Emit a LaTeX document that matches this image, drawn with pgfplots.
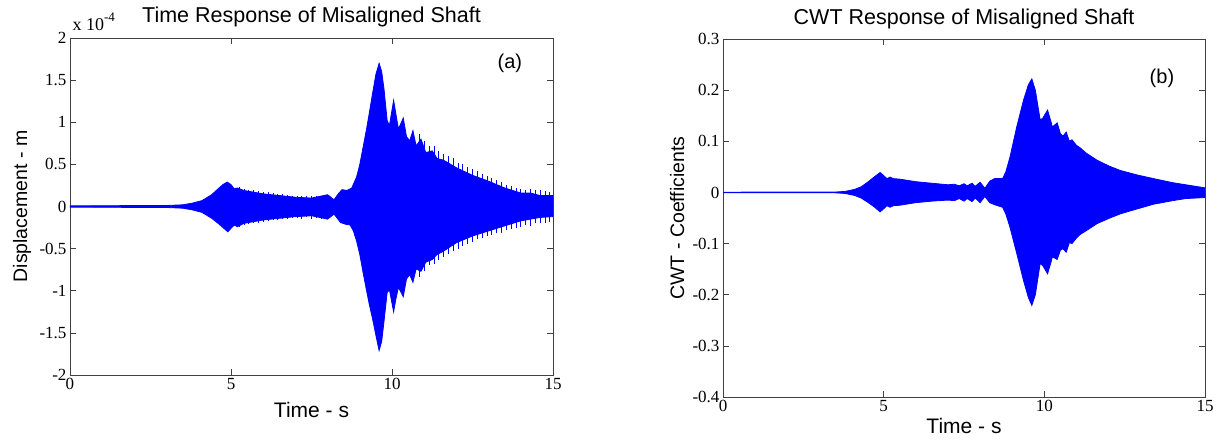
\documentclass[border=0pt]{standalone}
\usepackage{fontspec}
\setmainfont{Liberation Serif}
\newfontfamily\arial{Liberation Sans}
\usepackage{pgfplots}
\pgfplotsset{compat=1.18}
\begin{document}
\begin{tikzpicture}
\useasboundingbox (0pt,0pt) rectangle (1220pt,441pt);
\pgfplotsset{
  mstyle/.style={
    scale only axis, clip mode=individual,
    xmin=0, xmax=15,
    xtick={0,5,10,15}, xticklabels={0,5,10,15},
    tick align=inside, major tick length=6pt,
    axis line style={black!75, line width=0.7pt},
    tick style={black!75, line width=0.6pt},
    ticklabel style={font=\fontsize{17}{17}\selectfont},
    title style={font=\arial\fontsize{21.5}{22}\selectfont, at={(0.5,1)}, anchor=south, yshift=1pt},
    xlabel style={font=\arial\fontsize{21}{21}\selectfont, at={(0.5,0)}, anchor=north, yshift=-24pt},
    ylabel style={font=\arial\fontsize{19.5}{20}\selectfont},
  }
}
% ---------------- left panel ----------------
\begin{axis}[mstyle,
  at={(70pt,66pt)}, anchor=south west,
  width=483pt, height=337pt,
  ymin=-2, ymax=2,
  ytick={-2,-1.5,-1,-0.5,0,0.5,1,1.5,2},
  yticklabels={-2,-1.5,-1,-0.5,0,0.5,1,1.5,2},
  title={Time Response of Misaligned Shaft},
  xlabel={Time - s},
  ylabel={Displacement - m},
  ylabel style={at={(axis description cs:-0.099,0.5)}, anchor=center},
]
\addplot[draw=blue, fill=blue, line width=0.8pt] coordinates {
(0,0.008)(3,0.012)(3.5,0.02)(3.8,0.04)(4.1,0.07)(4.4,0.14)(4.6,0.21)(4.75,0.26)(4.88,0.29)(5.0,0.26)(5.1,0.21)(5.2,0.22)(5.4,0.19)(6.0,0.15)(6.5,0.13)(7.0,0.11)(7.5,0.1)(8.0,0.14)(8.2,0.08)(8.35,0.16)(8.45,0.2)(8.6,0.19)(8.75,0.22)(8.9,0.35)(9.0,0.5)(9.1,0.7)(9.2,0.9)(9.3,1.12)(9.4,1.35)(9.5,1.57)(9.6,1.70)(9.68,1.6)(9.75,1.4)(9.85,1.02)(9.92,0.96)(10.05,1.26)(10.12,1.1)(10.2,0.92)(10.35,1.05)(10.45,0.83)(10.55,0.78)(10.65,0.9)(10.75,0.72)(10.9,0.8)(11.05,0.64)(11.25,0.66)(11.4,0.57)(11.6,0.55)(12.0,0.46)(12.5,0.37)(13.0,0.3)(13.5,0.22)(14.0,0.16)(14.3,0.16)(14.6,0.13)(15,0.13)
(15,-0.12)(14.6,-0.13)(14.3,-0.15)(14.0,-0.17)(13.5,-0.23)(13.0,-0.29)(12.5,-0.35)(12.0,-0.43)(11.6,-0.53)(11.4,-0.57)(11.25,-0.63)(11.05,-0.66)(10.9,-0.77)(10.75,-0.74)(10.65,-0.9)(10.55,-0.81)(10.45,-0.86)(10.35,-1.07)(10.2,-0.96)(10.12,-1.1)(10.05,-1.25)(9.92,-0.99)(9.85,-1.02)(9.75,-1.37)(9.68,-1.6)(9.6,-1.71)(9.5,-1.53)(9.4,-1.34)(9.3,-1.17)(9.2,-0.98)(9.1,-0.78)(9.0,-0.57)(8.9,-0.41)(8.8,-0.29)(8.7,-0.22)(8.55,-0.21)(8.4,-0.19)(8.2,-0.09)(8.0,-0.15)(7.5,-0.11)(7.0,-0.12)(6.5,-0.14)(6.0,-0.16)(5.4,-0.2)(5.2,-0.24)(5.1,-0.22)(5.0,-0.26)(4.9,-0.3)(4.75,-0.25)(4.6,-0.2)(4.4,-0.14)(4.1,-0.07)(3.8,-0.04)(3.5,-0.02)(3,-0.012)(0,-0.008)
};
\addplot[ycomb, draw=blue, line width=0.7pt] coordinates {
(5.25,0.23)(5.4,0.21)(5.55,0.2)(5.7,0.19)(5.85,0.18)(6.0,0.17)(6.15,0.17)(6.3,0.16)(6.45,0.15)(6.6,0.15)(6.75,0.14)(6.9,0.13)(7.05,0.13)(7.2,0.13)(7.35,0.12)(7.5,0.13)(7.65,0.13)(7.8,0.13)
(10.85,0.86)(11.0,0.78)(11.15,0.72)(11.3,0.72)(11.45,0.66)(11.6,0.62)(11.75,0.6)(11.9,0.57)(12.05,0.52)(12.2,0.5)(12.35,0.47)(12.5,0.45)(12.65,0.42)(12.8,0.39)(12.95,0.36)(13.1,0.34)(13.25,0.31)(13.4,0.29)(13.55,0.26)(13.7,0.24)(13.85,0.22)(14.0,0.21)(14.15,0.2)(14.3,0.21)(14.45,0.2)(14.6,0.19)(14.75,0.18)(14.9,0.17)
};
\addplot[ycomb, draw=blue, line width=0.7pt] coordinates {
(5.25,-0.24)(5.4,-0.22)(5.55,-0.21)(5.7,-0.2)(5.85,-0.19)(6.0,-0.18)(6.15,-0.17)(6.3,-0.16)(6.45,-0.16)(6.6,-0.15)(6.75,-0.15)(6.9,-0.14)(7.05,-0.14)(7.2,-0.15)(7.35,-0.13)(7.5,-0.15)(7.65,-0.14)(7.8,-0.15)
(10.85,-0.84)(11.0,-0.76)(11.15,-0.7)(11.3,-0.68)(11.45,-0.63)(11.6,-0.6)(11.75,-0.56)(11.9,-0.53)(12.05,-0.5)(12.2,-0.47)(12.35,-0.44)(12.5,-0.42)(12.65,-0.39)(12.8,-0.37)(12.95,-0.35)(13.1,-0.34)(13.25,-0.32)(13.4,-0.31)(13.55,-0.28)(13.7,-0.27)(13.85,-0.25)(14.0,-0.24)(14.15,-0.22)(14.3,-0.23)(14.45,-0.2)(14.6,-0.2)(14.75,-0.19)(14.9,-0.18)
};
\node[font=\arial\fontsize{20}{20}\selectfont] at (axis cs:13.66,1.70) {(a)};
\node[anchor=south west, inner sep=0pt, font=\fontsize{18}{18}\selectfont] at (rel axis cs:0.005,1.02) {x 10\raisebox{1.1ex}{\fontsize{13}{13}\selectfont -4}};
\end{axis}
% ---------------- right panel ----------------
\begin{axis}[mstyle,
  at={(723pt,44pt)}, anchor=south west,
  width=482pt, height=358pt,
  ymin=-0.4, ymax=0.3,
  ytick={-0.4,-0.3,-0.2,-0.1,0,0.1,0.2,0.3},
  yticklabels={-0.4,-0.3,-0.2,-0.1,0,0.1,0.2,0.3},
  title={CWT Response of Misaligned Shaft},
  xlabel={Time - s},
  xlabel style={yshift=6pt},
  ylabel={CWT - Coefficients},
  ylabel style={at={(axis description cs:-0.095,0.5)}, anchor=center},
]
\addplot[draw=blue, fill=blue, line width=0.8pt] coordinates {
(0,0.0005)(3.5,0.0008)(3.8,0.002)(4.1,0.006)(4.3,0.011)(4.5,0.02)(4.7,0.03)(4.89,0.039)(5.0,0.033)(5.1,0.027)(5.2,0.03)(5.3,0.027)(5.5,0.026)(6.0,0.021)(6.5,0.018)(7.0,0.015)(7.2,0.016)(7.35,0.013)(7.5,0.017)(7.6,0.013)(7.75,0.018)(7.85,0.012)(8.0,0.02)(8.15,0.008)(8.3,0.022)(8.45,0.027)(8.7,0.027)(8.8,0.04)(8.93,0.069)(9.14,0.128)(9.35,0.18)(9.5,0.21)(9.61,0.222)(9.72,0.2)(9.87,0.142)(9.95,0.145)(10.1,0.161)(10.2,0.14)(10.25,0.128)(10.4,0.136)(10.5,0.115)(10.58,0.11)(10.68,0.118)(10.78,0.1)(10.86,0.103)(11.0,0.092)(11.12,0.087)(11.3,0.077)(11.64,0.063)(12.0,0.052)(12.36,0.043)(12.9,0.034)(13.4,0.027)(14.0,0.019)(14.4,0.015)(15,0.009)
(15,-0.01)(14.4,-0.012)(14.0,-0.016)(13.4,-0.023)(12.9,-0.032)(12.36,-0.042)(12.0,-0.051)(11.64,-0.061)(11.3,-0.075)(11.12,-0.082)(11.0,-0.089)(10.86,-0.1)(10.78,-0.098)(10.68,-0.117)(10.58,-0.11)(10.5,-0.113)(10.4,-0.131)(10.25,-0.126)(10.2,-0.138)(10.1,-0.159)(9.95,-0.143)(9.87,-0.139)(9.72,-0.2)(9.61,-0.221)(9.5,-0.205)(9.35,-0.172)(9.14,-0.119)(8.93,-0.068)(8.8,-0.042)(8.7,-0.029)(8.45,-0.024)(8.3,-0.02)(8.15,-0.008)(8.0,-0.02)(7.85,-0.011)(7.75,-0.018)(7.6,-0.012)(7.5,-0.017)(7.35,-0.012)(7.2,-0.016)(7.0,-0.015)(6.5,-0.017)(6.0,-0.02)(5.5,-0.025)(5.3,-0.026)(5.2,-0.029)(5.1,-0.026)(5.0,-0.032)(4.89,-0.038)(4.7,-0.028)(4.5,-0.019)(4.3,-0.011)(4.1,-0.006)(3.8,-0.002)(3.5,-0.0008)(0,-0.0005)
};
\node[font=\arial\fontsize{20}{20}\selectfont] at (axis cs:13.66,0.224) {(b)};
\end{axis}
\end{tikzpicture}
\end{document}
